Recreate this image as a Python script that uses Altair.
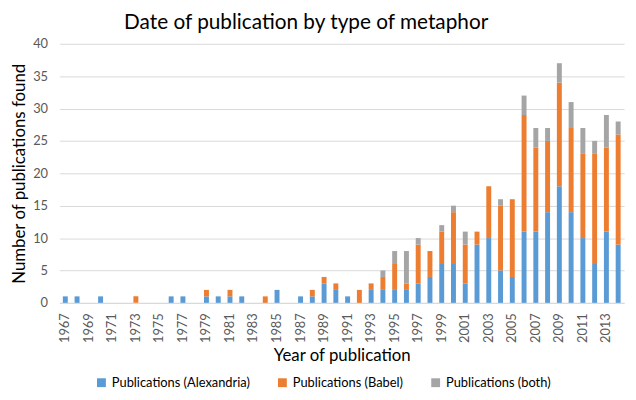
import altair as alt
import pandas as pd

years = list(range(1967, 2015))
alexandria = [1, 1, 0, 1, 0, 0, 0, 0, 0, 1, 1, 0, 1, 1, 1, 1, 0, 0, 2, 0,
              1, 1, 3, 2, 1, 0, 2, 2, 2, 2, 3, 4, 6, 6, 3, 9, 10, 5, 4, 11,
              11, 14, 18, 14, 10, 6, 11, 9]
babel = [0, 0, 0, 0, 0, 0, 1, 0, 0, 0, 0, 0, 1, 0, 1, 0, 0, 1, 0, 0,
         0, 1, 1, 1, 0, 2, 1, 2, 4, 1, 6, 4, 5, 8, 6, 2, 8, 10, 12, 18,
         13, 11, 16, 13, 13, 17, 13, 17]
both = [0, 0, 0, 0, 0, 0, 0, 0, 0, 0, 0, 0, 0, 0, 0, 0, 0, 0, 0, 0,
        0, 0, 0, 0, 0, 0, 0, 1, 2, 5, 1, 0, 1, 1, 2, 0, 0, 1, 0, 3,
        3, 2, 3, 4, 4, 2, 5, 2]
series = ["Publications (Alexandria)", "Publications (Babel)", "Publications (both)"]
colors = ["#5B9BD5", "#ED7D31", "#A5A5A5"]

rows = []
for i, y in enumerate(years):
    for k, (name, vals) in enumerate(zip(series, [alexandria, babel, both])):
        rows.append({"year": str(y), "series": name, "value": vals[i], "order": k})
df = pd.DataFrame(rows)

FONT = "Lato"
label_years = [str(y) for y in years if (y - 1967) % 2 == 0]

chart = alt.Chart(df).mark_bar().encode(
    x=alt.X("year:O", sort=[str(y) for y in years],
            scale=alt.Scale(paddingInner=0.58, paddingOuter=0.29),
            axis=alt.Axis(values=label_years, labelAngle=-90, title="Year of publication",
                          ticks=False, domainColor="#D9D9D9", labelColor="#595959",
                          labelFontSize=13, labelFont=FONT, titleFont=FONT,
                          titleFontSize=17, titleFontWeight="normal", titleColor="#000000",
                          labelPadding=10, titlePadding=5)),
    y=alt.Y("value:Q", stack="zero",
            scale=alt.Scale(domain=[0, 40]),
            axis=alt.Axis(values=list(range(0, 41, 5)), title="Number of publications found",
                          domain=False, ticks=False, gridColor="#D9D9D9",
                          labelColor="#595959", labelFontSize=13, labelFont=FONT,
                          titleFont=FONT, titleFontSize=17, titleFontWeight="normal",
                          titleColor="#000000", labelPadding=12, titlePadding=4)),
    color=alt.Color("series:N", scale=alt.Scale(domain=series, range=colors),
                    legend=alt.Legend(title=None, orient="none", direction="horizontal",
                                      legendX=36, legendY=336, symbolType="square",
                                      symbolSize=80, symbolStrokeWidth=0,
                                      labelFont=FONT, labelFontSize=13, labelColor="#000000",
                                      columnPadding=26)),
    order=alt.Order("order:Q"),
).properties(
    width=571,
    height=262,
    title=alt.TitleParams("Date of publication by type of metaphor", font=FONT,
                          fontSize=21, fontWeight="normal", color="#000000",
                          dx=-36, offset=5),
    autosize=alt.AutoSizeParams(type="none"),
    padding={"left": 52, "top": 34, "right": 4, "bottom": 90},
).configure_view(stroke=None)

chart.save("out.html", embed_options={"renderer": "svg", "actions": False})
